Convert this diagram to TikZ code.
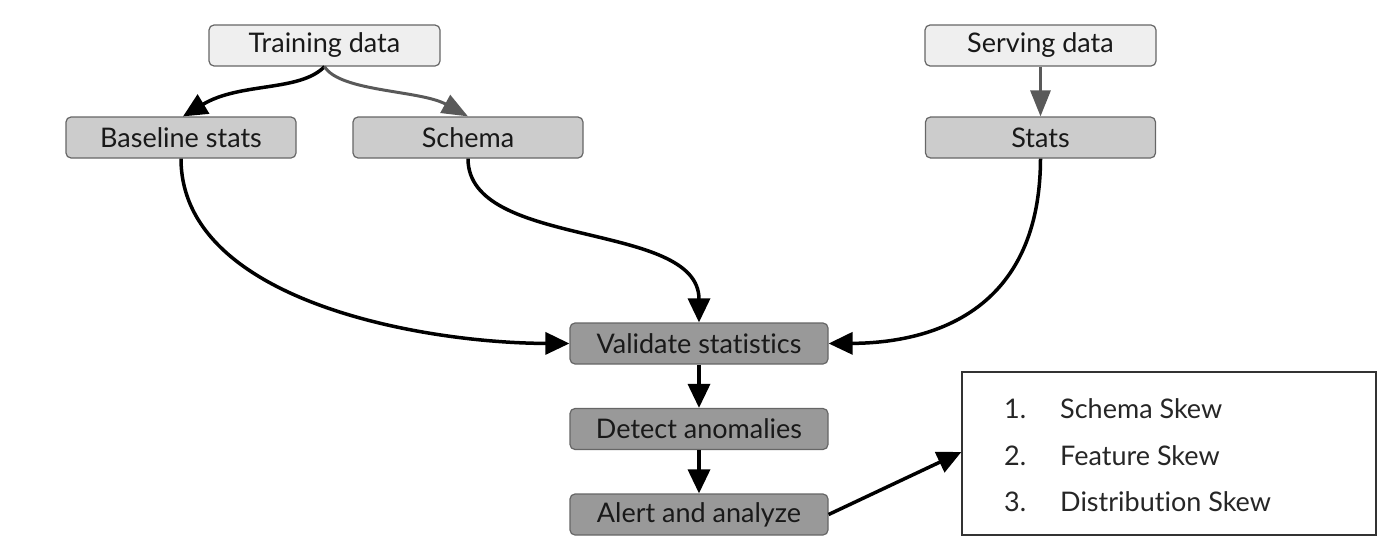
\documentclass[tikz,border=0pt]{standalone}
\usepackage{fontspec}
\setmainfont{Lato}[RawFeature={-liga}]
\usetikzlibrary{arrows.meta}
\definecolor{lightfill}{HTML}{EFEFEF}
\definecolor{midfill}{HTML}{CCCCCC}
\definecolor{darkfill}{HTML}{999999}
\definecolor{boxline}{HTML}{666666}
\definecolor{grayarrow}{HTML}{595959}
\begin{document}
\begin{tikzpicture}[x=1pt,y=-1pt,
  box/.style={draw=boxline,line width=1.2pt,rounded corners=5pt,minimum height=41pt,inner sep=0pt,font=\fontsize{27}{32}\selectfont,text=black!90},
  lightbox/.style={box,fill=lightfill,minimum width=231pt},
  midbox/.style={box,fill=midfill,minimum width=230pt},
  darkbox/.style={box,fill=darkfill,minimum width=258pt},
  blk/.style={line width=3.5pt,black,-{Triangle[length=24pt,width=22pt]}},
  gry/.style={line width=3pt,grayarrow,-{Triangle[length=26pt,width=20pt]}},
  listitem/.style={anchor=west,inner sep=0pt,font=\fontsize{27}{32}\selectfont,text=black!85}
]
\useasboundingbox (0,0) rectangle (1400,554);
\node[lightbox] (train) at (324.5,45.5) {Training data};
\node[lightbox] (serve) at (1040.5,45.5) {Serving data};
\node[midbox] (base) at (181,137.5) {Baseline stats};
\node[midbox] (schema) at (468,137.5) {Schema};
\node[midbox] (stats) at (1040.5,137.5) {Stats};
\node[darkbox] (valid) at (699,343.5) {Validate statistics};
\node[darkbox] (detect) at (699,429) {Detect anomalies};
\node[darkbox] (alert) at (699,514.5) {Alert and analyze};
\node[draw=black!80,line width=1.3pt,minimum width=414pt,minimum height=163pt,inner sep=0pt] (list) at (1169,453.5) {};
\node[listitem] (n1) at (1004,409) {1.};
\node[listitem] (t1) at (1060,409) {Schema Skew};
\node[listitem] (n2) at (1004,455.5) {2.};
\node[listitem] (t2) at (1060,455.5) {Feature Skew};
\node[listitem] (n3) at (1004,502) {3.};
\node[listitem] (t3) at (1060,502) {Distribution Skew};
\coordinate (trainb) at (train.south);
\coordinate (baset) at ([xshift=2pt]base.north);
\draw[blk] (trainb) .. controls (300,92) and (240,82) .. (baset);
\draw[gry] (trainb) .. controls (340,92) and (420,90) .. (schema.north);
\draw[gry] (serve.south) -- (stats.north);
\draw[blk] (base.south) .. controls (181,300) and (420,343) .. (valid.west);
\draw[blk] (schema.south) .. controls (468,250) and (699,220) .. (valid.north);
\draw[blk] (stats.south) .. controls (1040,320) and (920,343) .. (valid.east);
\draw[blk] (valid.south) -- (detect.north);
\draw[blk] (detect.south) -- (alert.north);
\draw[blk] (alert.east) -- ([yshift=1.5pt]list.west);
\end{tikzpicture}
\end{document}
